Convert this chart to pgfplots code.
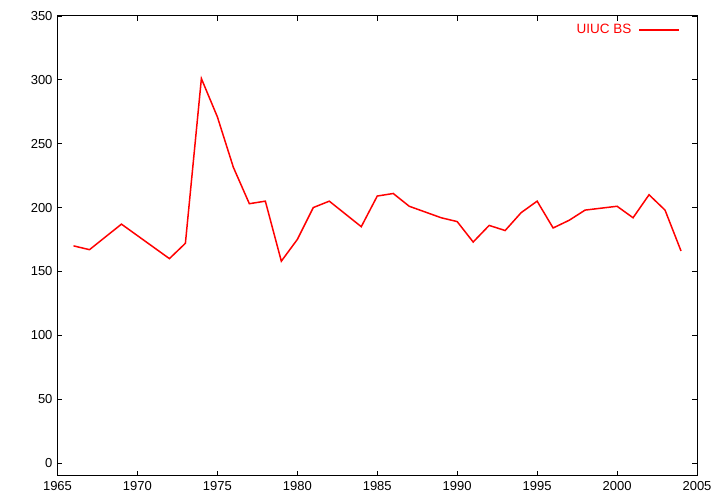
\documentclass[border=0pt]{standalone}
\usepackage{fontspec}
\setmainfont{Liberation Sans}
\usepackage{pgfplots}
\pgfplotsset{compat=1.18}
\begin{document}
\fontsize{13bp}{15bp}\selectfont
\begin{tikzpicture}
\path[use as bounding box] (0,0) rectangle (720bp,504bp);
\begin{axis}[
  at={(57.5bp,28.3bp)}, anchor=south west,
  scale only axis, width=639.5bp, height=459.7bp,
  xmin=1965, xmax=2005, ymin=-10, ymax=350,
  xtick={1965,1970,...,2005}, ytick={0,50,...,350},
  /pgf/number format/assume math mode=true,
  xticklabel style={/pgf/number format/1000 sep={}},
  tick align=inside, major tick length=5bp,
  tick style={black, line width=0.8bp},
  axis line style={black, line width=1bp},
  every tick label/.append style={font=\fontsize{13bp}{15bp}\selectfont},
  xticklabel style={yshift=-1bp},
  yticklabel style={xshift=-0.5bp},
  legend plot pos=right,
  legend style={draw=none, fill=none, at={(1,1)}, anchor=north east, xshift=-15bp, yshift=-4bp,
    text=red, font=\fontsize{13.5bp}{15bp}\selectfont, inner sep=2pt},
  legend image code/.code={\path (0bp,0bp); \draw[red, line width=1.5bp] (5bp,0bp) -- (45bp,0bp);},
]
\addplot[red, line width=1.5bp] coordinates {
(1966,170) (1967,167) (1969,187) (1970,178) (1971,169) (1972,160) (1973,172)
(1974,301) (1975,271) (1976,231.5) (1977,203) (1978,205) (1979,158) (1980,175)
(1981,200) (1982,205) (1984,185) (1985,209) (1986,211) (1987,201) (1988,196.5)
(1989,192) (1990,189) (1991,173) (1992,186) (1993,182) (1994,196) (1995,205)
(1996,184) (1997,190) (1998,198) (2000,201) (2001,192) (2002,210) (2003,198) (2004,166)
};
\addlegendentry{UIUC BS}
\end{axis}
\end{tikzpicture}
\end{document}
